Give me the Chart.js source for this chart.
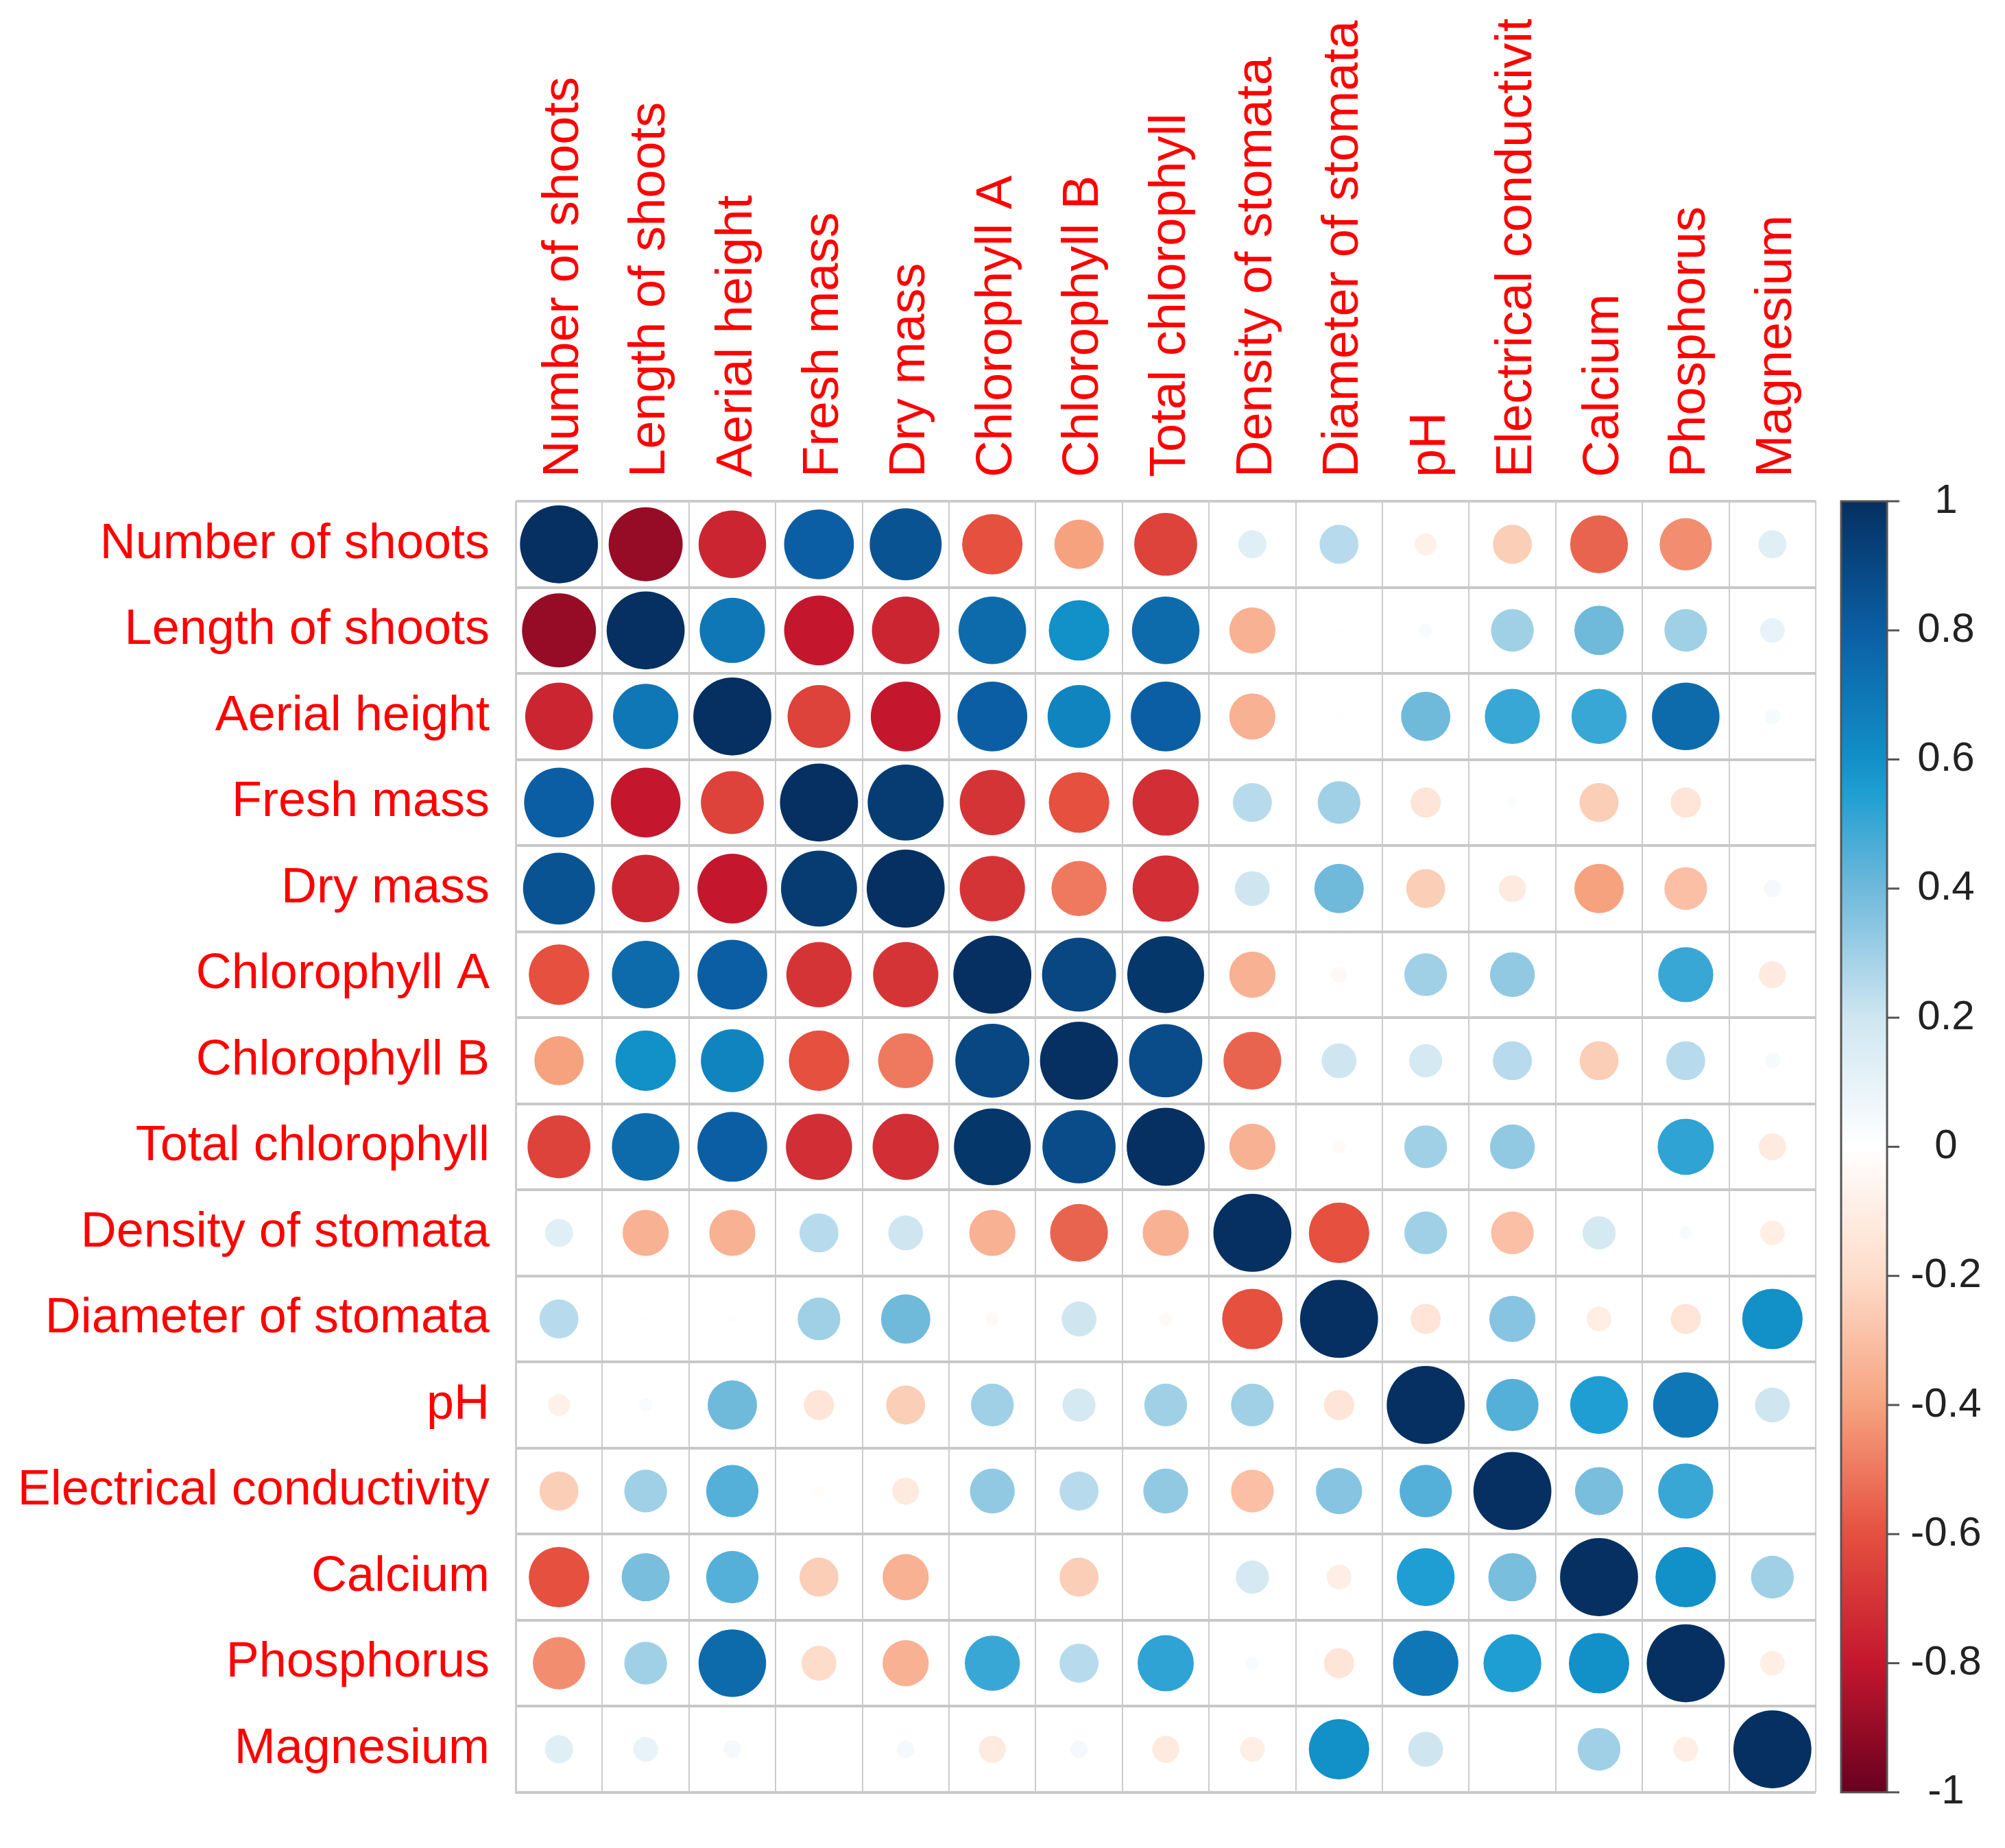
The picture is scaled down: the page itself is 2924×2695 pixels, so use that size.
<!DOCTYPE html>
<html>
<head>
<meta charset="utf-8">
<script src="https://cdn.jsdelivr.net/npm/chart.js@4.4.1/dist/chart.umd.min.js"></script>
<style>
  html, body { margin: 0; padding: 0; background: #fff; }
  #wrap { width: 2924px; height: 2695px; }
</style>
</head>
<body>
<div id="wrap"><canvas id="corrChart" width="2924" height="2695"></canvas></div>
<script>
// variable names (rows top->bottom, columns left->right)
const variables = ['Number of shoots', 'Length of shoots', 'Aerial height', 'Fresh mass', 'Dry mass',
    'Chlorophyll A', 'Chlorophyll B', 'Total chlorophyll', 'Density of stomata', 'Diameter of stomata',
    'pH', 'Electrical conductivity', 'Calcium', 'Phosphorus', 'Magnesium'];

// correlation values, one row per variable
const numberOfShoots   = [ 1.00, -0.90, -0.75,  0.80,  0.85, -0.60, -0.40, -0.65,  0.13,  0.25, -0.08, -0.25, -0.55, -0.45,  0.13];
const lengthOfShoots   = [-0.90,  1.00,  0.70, -0.80, -0.75,  0.75,  0.60,  0.75, -0.35,  0.01,  0.03,  0.30,  0.40,  0.30,  0.10];
const aerialHeight     = [-0.75,  0.70,  1.00, -0.65, -0.80,  0.80,  0.65,  0.80, -0.35,  0.01,  0.40,  0.50,  0.50,  0.75,  0.04];
const freshMass        = [ 0.80, -0.80, -0.65,  1.00,  0.95, -0.70, -0.60, -0.72,  0.25,  0.30, -0.15,  0.02, -0.25, -0.15,  0.00];
const dryMass          = [ 0.85, -0.75, -0.80,  0.95,  1.00, -0.70, -0.50, -0.72,  0.20,  0.40, -0.25, -0.12, -0.40, -0.30,  0.05];
const chlorophyllA     = [-0.60,  0.75,  0.80, -0.70, -0.70,  1.00,  0.90,  0.97, -0.35, -0.04,  0.30,  0.33,  0.00,  0.50, -0.12];
const chlorophyllB     = [-0.40,  0.60,  0.65, -0.60, -0.50,  0.90,  1.00,  0.88, -0.55,  0.20,  0.18,  0.25, -0.25,  0.25,  0.04];
const totalChlorophyll = [-0.65,  0.75,  0.80, -0.72, -0.72,  0.97,  0.88,  1.00, -0.35, -0.03,  0.30,  0.33,  0.00,  0.52, -0.12];
const densityStomata   = [ 0.13, -0.35, -0.35,  0.25,  0.20, -0.35, -0.55, -0.35,  1.00, -0.60,  0.30, -0.30,  0.18,  0.03, -0.10];
const diameterStomata  = [ 0.25,  0.01, -0.01,  0.30,  0.40, -0.03,  0.20, -0.03, -0.60,  1.00, -0.15,  0.35, -0.10, -0.15,  0.60];
const pH               = [-0.08,  0.03,  0.40, -0.15, -0.25,  0.30,  0.18,  0.30,  0.30, -0.15,  1.00,  0.45,  0.55,  0.70,  0.20];
const conductivity     = [-0.25,  0.30,  0.45, -0.02, -0.12,  0.33,  0.25,  0.33, -0.30,  0.35,  0.45,  1.00,  0.38,  0.50,  0.00];
const calcium          = [-0.60,  0.38,  0.45, -0.25, -0.35,  0.00, -0.25,  0.00,  0.18, -0.10,  0.55,  0.38,  1.00,  0.60,  0.30];
const phosphorus       = [-0.45,  0.30,  0.75, -0.20, -0.35,  0.50,  0.25,  0.52,  0.03, -0.15,  0.70,  0.55,  0.60,  1.00, -0.10];
const magnesium        = [ 0.13,  0.10,  0.05,  0.00,  0.05, -0.12,  0.05, -0.12, -0.10,  0.60,  0.20,  0.00,  0.30, -0.10,  1.00];

const rows = [numberOfShoots, lengthOfShoots, aerialHeight, freshMass, dryMass, chlorophyllA, chlorophyllB,
    totalChlorophyll, densityStomata, diameterStomata, pH, conductivity, calcium, phosphorus, magnesium];

// colour bar ticks
const colorbarTicks = [1, 0.8, 0.6, 0.4, 0.2, 0, -0.2, -0.4, -0.6, -0.8, -1];

// RdBu-like palette stops
const paletteStops = [
    [-1, [103, 0, 31]], [-0.8, [196, 23, 46]], [-0.6, [229, 80, 63]], [-0.4, [246, 162, 127]],
    [-0.2, [253, 220, 201]], [0, [255, 255, 255]], [0.2, [207, 230, 241]], [0.4, [111, 185, 219]],
    [0.55, [30, 158, 210]], [0.6, [18, 144, 200]], [0.8, [11, 94, 163]], [1, [5, 48, 97]]
];

function corrColor(v) {
    for (let i = 1; i < paletteStops.length; i++) {
        const a = paletteStops[i - 1], b = paletteStops[i];
        if (v <= b[0]) {
            const t = (v - a[0]) / (b[0] - a[0]);
            const c = a[1].map((x, k) => Math.round(x + (b[1][k] - x) * t));
            return 'rgb(' + c.join(',') + ')';
        }
    }
    return 'rgb(5,48,97)';
}

// build bubble points
const points = [];
rows.forEach(function(row, i) {
    row.forEach(function(v, j) {
        points.push({ x: variables[j], y: variables[i], v: v });
    });
});

const labelFont = '"Liberation Sans", Arial, sans-serif';

// white background + clip the top edge like the original image
const framePlugin = {
    id: 'frame',
    beforeDraw(chart) {
        const ctx = chart.ctx;
        ctx.save();
        ctx.fillStyle = '#fff';
        ctx.fillRect(0, 0, chart.width, chart.height);
        ctx.beginPath();
        ctx.rect(0, 28, chart.width, chart.height);
        ctx.clip();
    },
    afterDraw(chart) {
        chart.ctx.restore();
    }
};

// colour bar on the right, positioned with the hidden 'cb' scale
const colorbarPlugin = {
    id: 'colorbar',
    afterDraw(chart) {
        const ctx = chart.ctx;
        const cb = chart.scales.cb;
        const top = cb.getPixelForValue(1);
        const bottom = cb.getPixelForValue(-1);
        const x0 = chart.chartArea.right + 37;
        const w = 67;
        const grad = ctx.createLinearGradient(0, bottom, 0, top);
        paletteStops.forEach(function(s) {
            grad.addColorStop((s[0] + 1) / 2, 'rgb(' + s[1].join(',') + ')');
        });
        ctx.save();
        ctx.fillStyle = grad;
        ctx.fillRect(x0, top, w, bottom - top);
        ctx.strokeStyle = '#555';
        ctx.lineWidth = 3;
        ctx.strokeRect(x0, top, w, bottom - top);
        ctx.font = '60px ' + labelFont;
        ctx.fillStyle = '#222';
        ctx.textAlign = 'center';
        ctx.textBaseline = 'middle';
        colorbarTicks.forEach(function(t) {
            const y = cb.getPixelForValue(t);
            ctx.beginPath();
            ctx.moveTo(x0 + w, y);
            ctx.lineTo(x0 + w + 18, y);
            ctx.stroke();
            ctx.fillText(String(t), x0 + w + 86, y);
        });
        ctx.restore();
    }
};

const ctx = document.getElementById('corrChart');
const chart = new Chart(ctx, {
    type: 'bubble',
    data: {
        datasets: [{
            data: points,
            borderWidth: 0,
            radius: 0,
            hoverRadius: 0,
            backgroundColor: c => corrColor(c.raw ? c.raw.v : 0)
        }]
    },
    options: {
        responsive: false,
        devicePixelRatio: 1,
        animation: false,
        layout: { padding: { left: 0, top: 0, right: 276, bottom: 55 } },
        plugins: {
            legend: { display: false },
            tooltip: { enabled: false }
        },
        scales: {
            x: {
                type: 'category',
                labels: variables,
                position: 'top',
                offset: true,
                grid: { offset: true, color: '#cccccc', lineWidth: 2, drawTicks: false },
                border: { color: '#cccccc', width: 3 },
                ticks: {
                    color: '#ff0000',
                    font: { family: labelFont, size: 74 },
                    minRotation: 90,
                    maxRotation: 90,
                    autoSkip: false,
                    labelOffset: 96,
                    padding: 35
                },
                afterFit: function(s) { s.height = 731; }
            },
            y: {
                type: 'category',
                labels: variables,
                offset: true,
                grid: { offset: true, color: '#c8c8c8', lineWidth: 4, drawTicks: false },
                border: { color: '#cccccc', width: 3 },
                ticks: {
                    color: '#ff0000',
                    font: { family: labelFont, size: 72 },
                    autoSkip: false,
                    padding: 38
                },
                afterFit: function(s) { s.width = 752; }
            },
            cb: {
                type: 'linear',
                position: 'right',
                min: -1,
                max: 1,
                display: false
            }
        }
    },
    plugins: [framePlugin, colorbarPlugin]
});

// circle radius from the laid-out cell size: area proportional to |r|
const cell = chart.scales.x.width / variables.length;
chart.data.datasets[0].data.forEach(function(p) {
    p.r = 0.45 * cell * Math.sqrt(Math.abs(p.v));
});
chart.update();
</script>
</body>
</html>
